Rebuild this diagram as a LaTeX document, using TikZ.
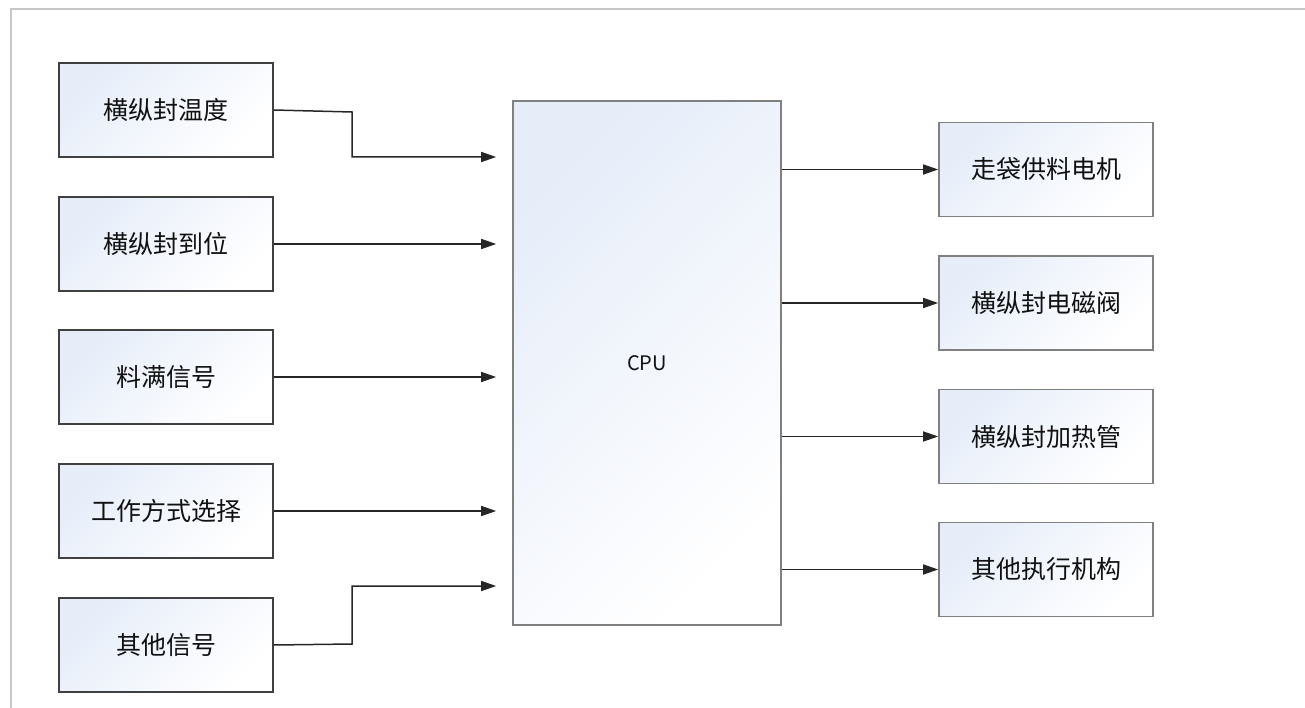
\documentclass[tikz,border=0pt]{standalone}
\usepackage{fontspec}
\newfontfamily\cjk{Noto Sans CJK SC}
\usetikzlibrary{arrows.meta}
\definecolor{boxblue}{HTML}{E6EDF9}
\definecolor{framegray}{HTML}{C8C8C8}
\definecolor{txt}{HTML}{111111}
\begin{document}
\begin{tikzpicture}[x=1pt,y=-1pt,
  gbox/.style={shading=axis, top color=boxblue, middle color=boxblue!35!white, bottom color=white, shading angle=45,
    minimum width=214pt, minimum height=94pt, inner sep=0pt, line width=1.6pt,
    font=\cjk\fontsize{25}{30}\selectfont, text=txt},
  lbox/.style={gbox, draw=black!75},
  rbox/.style={gbox, draw=black!50},
  cpubox/.style={gbox, draw=black!50, minimum width=268pt, minimum height=524pt,
    font=\cjk\fontsize{20}{24}\selectfont},
  arr/.style={draw=black!85, line width=1.5pt, -{Triangle[length=15pt,width=10pt]}},
  framel/.style={draw=framegray, line width=2pt}
]
\useasboundingbox (0,0) rectangle (1305,708);
\draw[framel] (11,708) -- (11,9) -- (1305,9);

\node[lbox] (l1) at (166,110) {横纵封温度};
\node[lbox] (l2) at (166,244) {横纵封到位};
\node[lbox] (l3) at (166,377) {料满信号};
\node[lbox] (l4) at (166,511) {工作方式选择};
\node[lbox] (l5) at (166,645) {其他信号};

\node[cpubox] (cpu) at (647,363) {CPU};

\node[rbox] (r1) at (1046,169.5) {走袋供料电机};
\node[rbox] (r2) at (1046,303) {横纵封电磁阀};
\node[rbox] (r3) at (1046,436.5) {横纵封加热管};
\node[rbox] (r4) at (1046,569.5) {其他执行机构};

\coordinate (c1) at (cpu.west |- 0,157);
\coordinate (c5) at (cpu.west |- 0,586);

\draw[arr, shorten >=16pt] (l1.east) -- (352,112) |- (c1);
\draw[arr, shorten >=16pt] (l2.east) -- (cpu.west |- l2.east);
\draw[arr, shorten >=16pt] (l3.east) -- (cpu.west |- l3.east);
\draw[arr, shorten >=16pt] (l4.east) -- (cpu.west |- l4.east);
\draw[arr, shorten >=16pt] (l5.east) -- (352,644) |- (c5);

\draw[arr] (cpu.east |- r1.west) -- (r1.west);
\draw[arr] (cpu.east |- r2.west) -- (r2.west);
\draw[arr] (cpu.east |- r3.west) -- (r3.west);
\draw[arr] (cpu.east |- r4.west) -- (r4.west);
\end{tikzpicture}
\end{document}
